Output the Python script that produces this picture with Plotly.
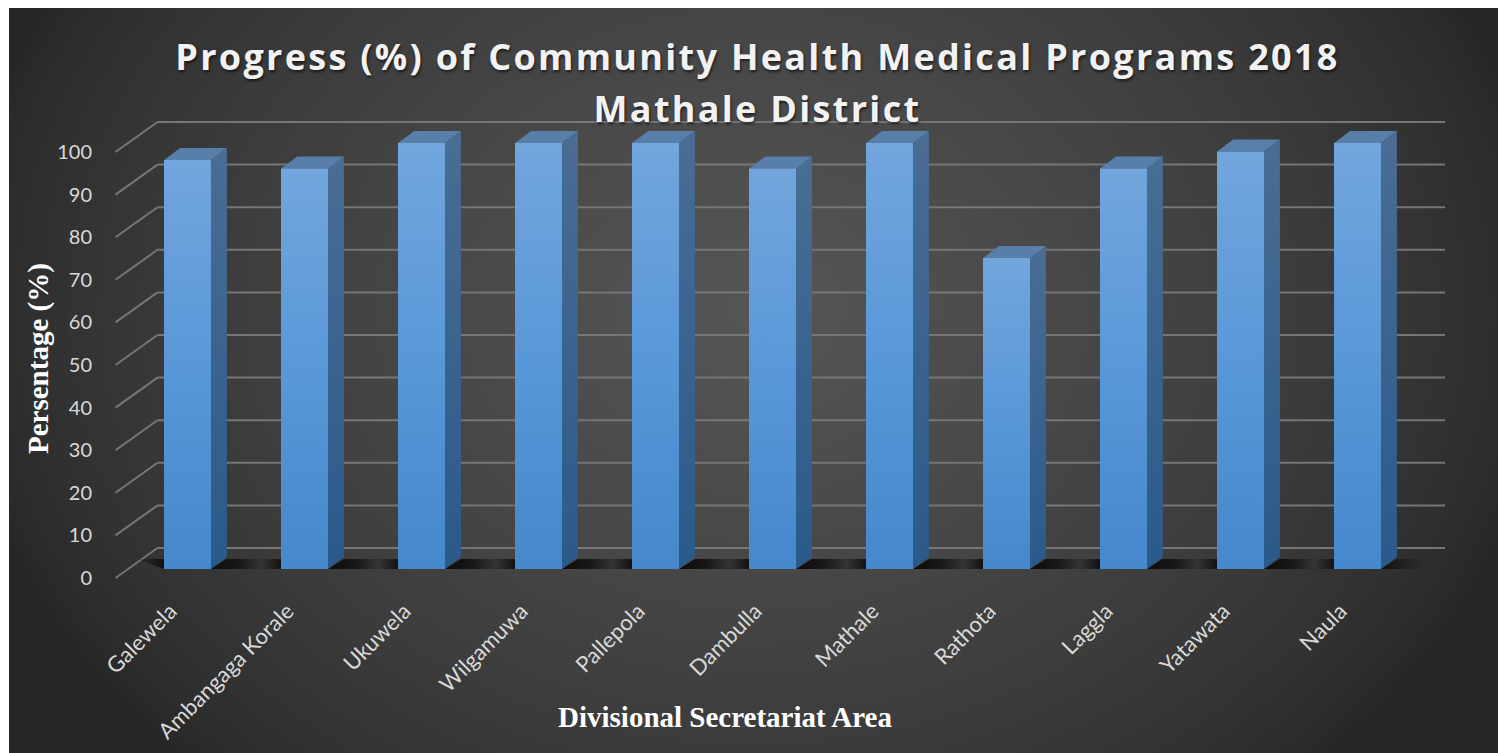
import base64, struct, zlib
import numpy as np
import plotly.graph_objects as go

# ---- data ----
categories = ["Galewela", "Ambangaga Korale", "Ukuwela", "Wilgamuwa", "Pallepola", "Dambulla",
              "Mathale", "Rathota", "Laggla", "Yatawata", "Naula"]
values = [96, 94, 100, 100, 100, 94, 100, 73, 94, 98, 100]
grid_values = [0, 10, 20, 30, 40, 50, 60, 70, 80, 90, 100]
title_text = "Progress (%) of Community Health Medical Programs 2018<br>Mathale District"
x_title = "Divisional Secretariat Area"
y_title = "Persentage (%)"

# ---- pseudo-3D geometry, in axis units ----
W, H = 1498, 753
PX_STEP, PX_X0 = 117.0, 187.5      # pixels per category, pixel of first category
PX_UNIT, PX_Y0 = 4.26, 578.0       # pixels per percent, pixel of axis zero
BAR_W = 0.40
BAR_DX, BAR_DY = 16 / PX_STEP, 12 / PX_UNIT
FLOOR_LIFT = 9 / PX_UNIT
WALL_DX, WALL_DY = 42 / PX_STEP, 30 / PX_UNIT
WALL_LEFT = (115.5 - PX_X0) / PX_STEP
WALL_RIGHT = (1445 - PX_X0) / PX_STEP
PLOT_L, PLOT_R, PLOT_T, PLOT_B = 97, 1480, 110, 593


def png_uri(arr):
    h, w = arr.shape
    raw = b"".join(b"\x00" + arr[r].tobytes() for r in range(h))
    def chunk(t, d):
        return struct.pack(">I", len(d)) + t + d + struct.pack(">I", zlib.crc32(t + d))
    data = b"\x89PNG\r\n\x1a\n" + chunk(b"IHDR", struct.pack(">IIBBBBB", w, h, 8, 0, 0, 0, 0)) \
        + chunk(b"IDAT", zlib.compress(raw)) + chunk(b"IEND", b"")
    return "data:image/png;base64," + base64.b64encode(data).decode()


yy, xx = np.mgrid[0:373, 0:745]
r = np.sqrt(((xx - 372) / 400.0) ** 2 + ((yy - 150) / 320.0) ** 2)
glow = np.clip(1 - r, 0, 1) ** 0.7
bg = np.clip(0x27 + (0x56 - 0x27) * glow, 0, 255).astype(np.uint8)

fig = go.Figure()

# front faces as real bars
fig.add_trace(go.Bar(x=list(range(len(categories))), y=values, base=FLOOR_LIFT, width=BAR_W,
                     marker=dict(color="#5a97d6", line=dict(width=0)),
                     customdata=categories, hovertemplate="%{customdata}: %{y}%<extra></extra>",
                     showlegend=False))


def poly(xs, ys, stops=None, orientation="vertical", solid=None):
    kw = dict(x=xs, y=ys, mode="lines", fill="toself", line=dict(width=0),
              hoverinfo="skip", showlegend=False)
    if stops:
        kw["fillgradient"] = dict(type=orientation, colorscale=stops)
    else:
        kw["fillcolor"] = solid
    fig.add_trace(go.Scatter(**kw))


# floor shadows between the bars
n = len(values)
yb, yt = FLOOR_LIFT, FLOOR_LIFT + 10 / PX_UNIT
left_edge = -BAR_W / 2
poly([left_edge - 30 / PX_STEP, left_edge, left_edge, left_edge - 30 / PX_STEP + 0.02],
     [yt, yt, yb, yt],
     [[0, "rgba(20,20,20,0)"], [1, "rgba(14,14,14,1)"]], "horizontal")
for i in range(n):
    a = i + BAR_W / 2
    b = i + 1 - BAR_W / 2 if i < n - 1 else i + BAR_W / 2 + 48 / PX_STEP
    if i < n - 1:
        stops = [[0, "rgba(12,12,12,1)"], [0.4, "rgba(24,24,24,1)"], [0.72, "rgba(52,52,52,1)"],
                 [1, "rgba(18,18,18,1)"]]
    else:
        stops = [[0, "rgba(12,12,12,1)"], [1, "rgba(30,30,30,0)"]]
    poly([a, a + BAR_DX, b, b - (0 if i < n - 1 else 12 / PX_STEP), a],
         [yb, yt, yt, yb, yb], stops, "horizontal")

# side, top and front faces with their shading
for i, v in enumerate(values):
    l, rr = i - BAR_W / 2, i + BAR_W / 2
    top = v + FLOOR_LIFT
    poly([rr, rr + BAR_DX, rr + BAR_DX, rr, rr],
         [FLOOR_LIFT, FLOOR_LIFT + BAR_DY, top + BAR_DY, top, FLOOR_LIFT],
         [[0, "#2a5a8a"], [1, "#4a6d94"]])
    poly([l, l + BAR_DX, rr + BAR_DX, rr, l],
         [top, top + BAR_DY, top + BAR_DY, top, top], solid="#577fa9")
    poly([l, rr, rr, l, l], [FLOOR_LIFT, FLOOR_LIFT, top, top, FLOOR_LIFT],
         [[0, "#4588cc"], [0.55, "#5b99d9"], [1, "#72a6dd"]])

grid_col = "#767676"
shapes = []
for g in grid_values:
    shapes.append(dict(type="line", xref="x", yref="y", layer="below",
                       x0=WALL_LEFT + WALL_DX, x1=WALL_RIGHT, y0=g + WALL_DY, y1=g + WALL_DY,
                       line=dict(color=grid_col, width=2)))
    shapes.append(dict(type="line", xref="x", yref="y", layer="below",
                       x0=WALL_LEFT, x1=WALL_LEFT + WALL_DX, y0=g, y1=g + WALL_DY,
                       line=dict(color=grid_col, width=2)))

fig.update_layout(
    width=W, height=H, margin=dict(l=0, r=0, t=0, b=0),
    paper_bgcolor="white", plot_bgcolor="rgba(0,0,0,0)", showlegend=False,
    bargap=0,
    font=dict(family="Lato", color="#d9d9d9"),
    title=dict(text=title_text, x=757.5 / W, xanchor="center", y=1 - 70 / H, yanchor="top",
               font=dict(family="Open Sans", size=36, color="#f2f2f2", weight="bold",
                         shadow="1px 2px 3px rgba(0,0,0,0.6)")),
    xaxis=dict(domain=[PLOT_L / W, PLOT_R / W],
               range=[(PLOT_L - PX_X0) / PX_STEP, (PLOT_R - PX_X0) / PX_STEP],
               tickmode="array", tickvals=list(range(n)), ticktext=categories, tickangle=-45,
               showgrid=False, zeroline=False, showline=False, ticks="", ticklabelshift=-17,
               tickfont=dict(family="Lato", size=22, color="#d9d9d9")),
    yaxis=dict(domain=[1 - PLOT_B / H, 1 - PLOT_T / H],
               range=[(PX_Y0 - PLOT_B) / PX_UNIT, (PX_Y0 - PLOT_T) / PX_UNIT],
               tickmode="array", tickvals=grid_values, ticklabelstandoff=4,
               showgrid=False, zeroline=False, showline=False, ticks="",
               tickfont=dict(family="Lato", size=20, color="#d9d9d9")),
    images=[dict(source=png_uri(bg), xref="paper", yref="paper", x=9 / W, y=1 - 8 / H,
                 sizex=(W - 9) / W, sizey=(H - 8) / H, sizing="stretch",
                 xanchor="left", yanchor="top", layer="below")],
    shapes=shapes,
    annotations=[
        dict(text=x_title, xref="paper", yref="paper", x=725 / W, y=1 - 717 / H, showarrow=False,
             xanchor="center", yanchor="middle",
             font=dict(family="Liberation Serif", size=29, color="white", weight="bold")),
        dict(text=y_title, xref="paper", yref="paper", x=38 / W, y=1 - 359 / H, showarrow=False,
             textangle=-90, xanchor="center", yanchor="middle",
             font=dict(family="Liberation Serif", size=29, color="white", weight="bold")),
    ],
)

fig.write_html("out.html", config=dict(displayModeBar=False), post_script=(
    "document.body.style.margin='0';document.body.style.overflow='hidden';"
    "document.querySelectorAll('.gtitle').forEach(function(e){e.style.letterSpacing='2.3px';"
    "var t=e.querySelectorAll('tspan.line');if(t.length>1){t[1].setAttribute('dy','52px');}});"))
